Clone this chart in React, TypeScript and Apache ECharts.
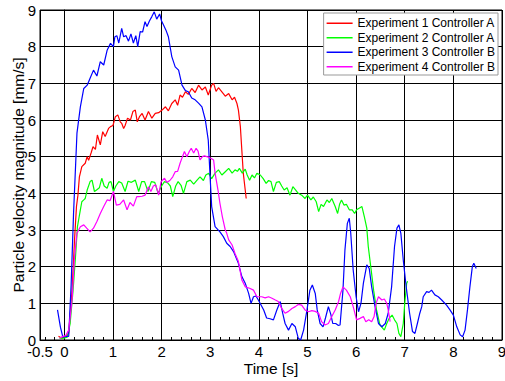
import React, { useEffect, useRef } from "react";
import * as echarts from "echarts";

const seriesNames = [
  "Experiment 1 Controller A",
  "Experiment 2 Controller A",
  "Experiment 3 Controller B",
  "Experiment 4 Controller B",
];
const seriesColors = ["#ff0000", "#00ff00", "#0000ff", "#ff00ff"];

const xTickLabels = [-0.5, 0, 1, 2, 3, 4, 5, 6, 7, 8, 9];

const exp1T = [-0.12, -0.05, 0.02, 0.09, 0.16, 0.21, 0.25, 0.28, 0.31, 0.36, 0.43, 0.47, 0.5, 0.55, 0.59, 0.64, 0.68, 0.74, 0.79, 0.84, 0.91, 0.95, 1.0, 1.05, 1.1, 1.15, 1.18, 1.22, 1.25, 1.3, 1.36, 1.41, 1.46, 1.5, 1.55, 1.6, 1.66, 1.73, 1.8, 1.87, 1.94, 2.01, 2.08, 2.14, 2.21, 2.28, 2.33, 2.38, 2.43, 2.49, 2.55, 2.62, 2.69, 2.76, 2.83, 2.9, 2.96, 3.03, 3.07, 3.12, 3.17, 3.24, 3.31, 3.38, 3.45, 3.5, 3.55, 3.58, 3.62, 3.65, 3.68, 3.72, 3.74];
const exp1V = [0.1, 0.05, 0.1, 0.18, 1.36, 2.73, 3.64, 3.95, 4.45, 4.73, 4.82, 5.0, 4.9, 5.1, 5.27, 5.2, 5.59, 5.32, 5.68, 5.55, 5.77, 5.82, 5.85, 6.09, 6.14, 5.95, 5.91, 5.77, 5.85, 6.05, 6.0, 6.23, 6.27, 5.95, 6.1, 6.18, 6.0, 6.23, 6.05, 6.18, 6.2, 6.27, 6.36, 6.25, 6.45, 6.55, 6.4, 6.68, 6.62, 6.77, 6.7, 6.86, 6.75, 6.95, 6.82, 6.9, 6.68, 6.95, 7.0, 6.78, 6.88, 6.77, 6.65, 6.72, 6.55, 6.62, 6.45, 6.27, 5.82, 5.18, 4.55, 4.09, 3.86];

const exp2T = [-0.1, -0.01, 0.06, 0.12, 0.18, 0.23, 0.27, 0.3, 0.33, 0.36, 0.4, 0.43, 0.47, 0.53, 0.57, 0.62, 0.67, 0.72, 0.77, 0.82, 0.88, 0.92, 0.96, 1.01, 1.06, 1.12, 1.18, 1.25, 1.31, 1.38, 1.46, 1.53, 1.59, 1.65, 1.72, 1.79, 1.86, 1.93, 2.0, 2.06, 2.13, 2.18, 2.23, 2.29, 2.34, 2.4, 2.45, 2.52, 2.59, 2.66, 2.73, 2.79, 2.86, 2.91, 2.97, 3.03, 3.1, 3.17, 3.24, 3.31, 3.38, 3.45, 3.51, 3.56, 3.6, 3.66, 3.72, 3.76, 3.81, 3.86, 3.91, 3.96, 4.03, 4.09, 4.15, 4.2, 4.25, 4.3, 4.36, 4.42, 4.47, 4.52, 4.58, 4.64, 4.7, 4.75, 4.81, 4.88, 4.95, 5.0, 5.07, 5.12, 5.18, 5.23, 5.28, 5.33, 5.4, 5.45, 5.5, 5.57, 5.62, 5.66, 5.7, 5.75, 5.8, 5.86, 5.92, 5.97, 6.01, 6.07, 6.12, 6.17, 6.22, 6.25, 6.31, 6.36, 6.42, 6.49, 6.58, 6.63, 6.68, 6.74, 6.79, 6.84, 6.88, 6.92, 6.97, 7.0, 7.04, 7.06];
const exp2V = [0.05, 0.05, 0.08, 0.45, 1.36, 2.27, 3.09, 3.32, 3.55, 3.77, 3.82, 3.86, 4.09, 4.32, 4.36, 4.05, 4.1, 4.15, 4.41, 4.2, 4.14, 4.3, 4.32, 4.05, 4.2, 4.32, 4.28, 4.05, 4.33, 4.3, 4.36, 4.05, 4.32, 4.32, 4.05, 4.32, 4.3, 4.0, 4.2, 4.32, 4.28, 4.2, 3.91, 4.2, 4.32, 4.22, 4.0, 4.32, 4.36, 4.25, 4.36, 4.45, 4.35, 4.5, 4.55, 4.4, 4.55, 4.64, 4.5, 4.59, 4.68, 4.55, 4.64, 4.6, 4.68, 4.55, 4.66, 4.5, 4.36, 4.5, 4.42, 4.55, 4.5, 4.4, 4.27, 4.35, 4.32, 4.05, 4.3, 4.32, 4.2, 4.09, 4.15, 3.95, 4.18, 4.1, 4.0, 3.95, 3.86, 3.95, 3.82, 3.9, 3.77, 3.5, 3.7, 3.64, 3.82, 3.75, 3.86, 3.64, 3.45, 3.7, 3.82, 3.68, 3.7, 3.55, 3.55, 3.45, 3.55, 3.6, 3.64, 3.36, 3.05, 2.55, 1.91, 1.36, 0.82, 0.41, 0.27, 0.45, 0.59, 0.68, 0.55, 0.45, 0.18, 0.09, 0.45, 1.0, 1.55, 1.6];

const exp3T = [-0.14, -0.08, -0.03, 0.03, 0.09, 0.14, 0.19, 0.26, 0.33, 0.4, 0.47, 0.53, 0.6, 0.67, 0.74, 0.81, 0.88, 0.95, 1.01, 1.04, 1.08, 1.12, 1.18, 1.22, 1.27, 1.32, 1.37, 1.42, 1.47, 1.51, 1.56, 1.61, 1.66, 1.7, 1.75, 1.8, 1.85, 1.9, 1.96, 2.0, 2.04, 2.09, 2.14, 2.21, 2.28, 2.35, 2.42, 2.49, 2.55, 2.62, 2.69, 2.76, 2.83, 2.9, 2.96, 3.0, 3.03, 3.1, 3.2, 3.27, 3.34, 3.41, 3.48, 3.58, 3.65, 3.72, 3.79, 3.84, 3.89, 3.94, 3.99, 4.1, 4.16, 4.23, 4.3, 4.37, 4.44, 4.49, 4.54, 4.61, 4.68, 4.75, 4.81, 4.86, 4.92, 4.99, 5.05, 5.1, 5.16, 5.2, 5.26, 5.32, 5.37, 5.43, 5.48, 5.52, 5.58, 5.63, 5.67, 5.73, 5.77, 5.82, 5.86, 5.89, 5.94, 6.0, 6.05, 6.1, 6.15, 6.22, 6.27, 6.32, 6.39, 6.46, 6.53, 6.6, 6.66, 6.73, 6.79, 6.84, 6.88, 6.92, 6.97, 7.03, 7.1, 7.16, 7.21, 7.26, 7.31, 7.35, 7.38, 7.45, 7.5, 7.55, 7.62, 7.69, 7.76, 7.86, 7.93, 8.0, 8.07, 8.14, 8.19, 8.24, 8.29, 8.34, 8.39, 8.42, 8.47];
const exp3V = [0.82, 0.35, 0.08, 0.1, 0.1, 1.5, 3.46, 5.64, 6.36, 6.86, 6.95, 7.14, 7.36, 7.2, 7.59, 7.5, 7.9, 8.09, 8.0, 8.27, 8.3, 8.1, 8.5, 8.27, 8.3, 8.15, 8.35, 8.1, 8.3, 8.0, 8.41, 8.4, 8.68, 8.55, 8.7, 8.82, 8.95, 8.75, 8.89, 8.7, 8.59, 8.45, 8.27, 7.73, 7.45, 7.36, 6.95, 6.8, 6.77, 6.6, 6.55, 6.46, 6.36, 6.0, 5.45, 4.4, 3.64, 3.09, 2.95, 2.82, 2.64, 2.55, 2.41, 2.09, 1.73, 1.55, 1.27, 1.0, 1.18, 1.2, 1.09, 0.82, 0.6, 0.58, 0.55, 0.82, 1.05, 0.73, 0.45, 0.27, 0.45, 0.36, 0.05, 0.0, 0.27, 0.82, 1.36, 1.5, 1.27, 0.82, 0.45, 0.36, 0.6, 0.91, 0.7, 0.45, 0.45, 0.4, 0.41, 1.36, 2.45, 3.18, 3.32, 2.91, 1.91, 1.18, 0.77, 1.0, 1.55, 2.05, 1.95, 1.45, 0.91, 0.45, 0.36, 0.45, 0.73, 1.45, 2.55, 3.05, 3.14, 2.91, 2.18, 1.45, 0.73, 0.23, 0.18, 0.45, 0.73, 0.91, 1.18, 1.32, 1.3, 1.36, 1.23, 1.18, 1.09, 0.95, 0.82, 0.68, 0.36, 0.14, 0.09, 0.27, 0.82, 1.45, 2.0, 2.09, 1.95];

const exp4T = [-0.1, -0.03, 0.03, 0.09, 0.16, 0.21, 0.26, 0.33, 0.4, 0.46, 0.53, 0.6, 0.67, 0.74, 0.81, 0.88, 0.94, 1.01, 1.07, 1.14, 1.22, 1.29, 1.35, 1.42, 1.49, 1.53, 1.6, 1.66, 1.73, 1.78, 1.83, 1.88, 1.94, 1.99, 2.06, 2.11, 2.17, 2.23, 2.28, 2.33, 2.38, 2.43, 2.47, 2.52, 2.57, 2.61, 2.66, 2.71, 2.75, 2.79, 2.84, 2.88, 2.93, 2.98, 3.02, 3.07, 3.1, 3.16, 3.2, 3.25, 3.31, 3.34, 3.38, 3.45, 3.51, 3.58, 3.65, 3.72, 3.81, 3.89, 3.96, 4.06, 4.13, 4.2, 4.27, 4.34, 4.4, 4.47, 4.54, 4.61, 4.68, 4.75, 4.81, 4.88, 4.95, 5.02, 5.09, 5.16, 5.23, 5.29, 5.36, 5.43, 5.5, 5.57, 5.64, 5.68, 5.73, 5.8, 5.88, 5.94, 6.01, 6.08, 6.15, 6.2, 6.26, 6.32, 6.37, 6.41, 6.46, 6.53, 6.58, 6.63, 6.66, 6.7];
const exp4V = [0.05, 0.1, 0.12, 0.27, 1.09, 2.27, 2.91, 3.09, 3.14, 3.05, 2.95, 3.05, 3.23, 3.45, 3.64, 3.82, 3.8, 4.05, 3.68, 3.7, 3.82, 3.55, 3.75, 3.65, 3.91, 3.91, 3.92, 3.95, 4.18, 4.05, 4.2, 4.23, 3.95, 4.32, 4.41, 4.3, 4.35, 4.45, 4.59, 4.6, 4.82, 5.0, 5.14, 5.0, 5.14, 5.23, 5.1, 5.23, 5.15, 4.91, 5.0, 5.02, 5.0, 4.98, 4.95, 4.91, 4.55, 4.09, 3.73, 3.36, 3.0, 2.91, 2.73, 2.59, 2.36, 2.14, 1.64, 1.45, 1.41, 1.36, 1.18, 1.18, 1.15, 1.18, 1.14, 1.09, 1.05, 0.86, 0.73, 0.78, 0.86, 0.91, 0.97, 0.95, 0.82, 0.77, 0.8, 0.78, 0.73, 0.5, 0.41, 0.45, 0.64, 0.82, 1.05, 1.27, 1.45, 1.36, 1.18, 0.91, 0.55, 0.59, 0.64, 0.5, 0.55, 0.5, 0.64, 1.0, 1.18, 1.09, 1.12, 1.0, 0.82, 0.5];

const seriesT = [exp1T, exp2T, exp3T, exp4T];
const seriesV = [exp1V, exp2V, exp3V, exp4V];

const FONT = "'Liberation Sans', Arial, Helvetica, sans-serif";

export default function App() {
  const ref = useRef<HTMLDivElement>(null);
  useEffect(() => {
    if (!ref.current) return;
    const chart = echarts.init(ref.current, undefined, { renderer: "svg" });
    const minorTicks: number[] = [];
    for (let i = -2; i <= 45; i++) {
      const v = Math.round(i * 0.2 * 10) / 10;
      if (Math.abs(v - Math.round(v)) > 1e-6) minorTicks.push(v);
    }
    chart.setOption({
      animation: false,
      backgroundColor: "#fff",
      textStyle: { fontFamily: FONT },
      grid: {
        left: 40,
        right: 3,
        top: 10,
        bottom: 41,
        containLabel: false,
        outerBoundsMode: "none",
        show: true,
        borderColor: "#000",
        borderWidth: 1,
        backgroundColor: "transparent",
      },
      legend: {
        data: seriesNames,
        orient: "vertical",
        right: 7,
        top: 13,
        backgroundColor: "#fff",
        borderColor: "#999",
        borderWidth: 1,
        padding: [3, 3, 1, 3],
        itemGap: 0,
        itemWidth: 26,
        itemHeight: 1.5,
        icon: "rect",
        selectedMode: false,
        textStyle: { fontFamily: FONT, fontSize: 12, color: "#000", lineHeight: 14.5 },
      },
      xAxis: [
        {
          type: "value",
          min: -0.5,
          max: 9,
          name: "Time [s]",
          nameLocation: "middle",
          nameGap: 20,
          nameMoveOverlap: false,
          nameTextStyle: { fontFamily: FONT, fontSize: 15.5, color: "#000" },
          axisLine: { show: true, lineStyle: { color: "#000" } },
          axisTick: { show: true, inside: true, length: 5, customValues: xTickLabels, lineStyle: { color: "#000" } },
          axisLabel: {
            customValues: xTickLabels,
            fontFamily: FONT,
            fontSize: 15,
            lineHeight: 11,
            color: "#000",
            margin: 6,
            formatter: (v: number) => String(v),
          },
          splitLine: { show: true, lineStyle: { color: "#000", width: 1 } },
        },
        {
          type: "value",
          min: -0.5,
          max: 9,
          position: "bottom",
          axisLine: { show: false },
          axisLabel: { show: false },
          splitLine: { show: false },
          axisTick: { show: true, inside: true, length: 3, customValues: minorTicks, lineStyle: { color: "#000", width: 1 } },
        },
      ],
      yAxis: {
        type: "value",
        min: 0,
        max: 9,
        interval: 1,
        name: "Particle velocity magnitude [mm/s]",
        nameLocation: "middle",
        nameGap: 14,
        nameMoveOverlap: false,
        nameTextStyle: { fontFamily: FONT, fontSize: 15.5, color: "#000" },
        axisLine: { show: true, lineStyle: { color: "#000" } },
        axisTick: { show: true, inside: true, length: 5, lineStyle: { color: "#000" } },
        axisLabel: { fontFamily: FONT, fontSize: 15, lineHeight: 11, color: "#000", margin: 4 },
        splitLine: { show: true, lineStyle: { color: "#000", width: 1 } },
      },
      series: seriesNames.map((name, i) => ({
        name,
        type: "line",
        xAxisIndex: 0,
        showSymbol: false,
        symbol: "none",
        color: seriesColors[i],
        lineStyle: { color: seriesColors[i], width: 1.2 },
        data: seriesT[i].map((t, j) => [t, seriesV[i][j]]),
      })),
    });
    return () => chart.dispose();
  }, []);
  return <div ref={ref} style={{ width: 505, height: 381, position: "absolute", left: 0, top: 0 }} />;
}
